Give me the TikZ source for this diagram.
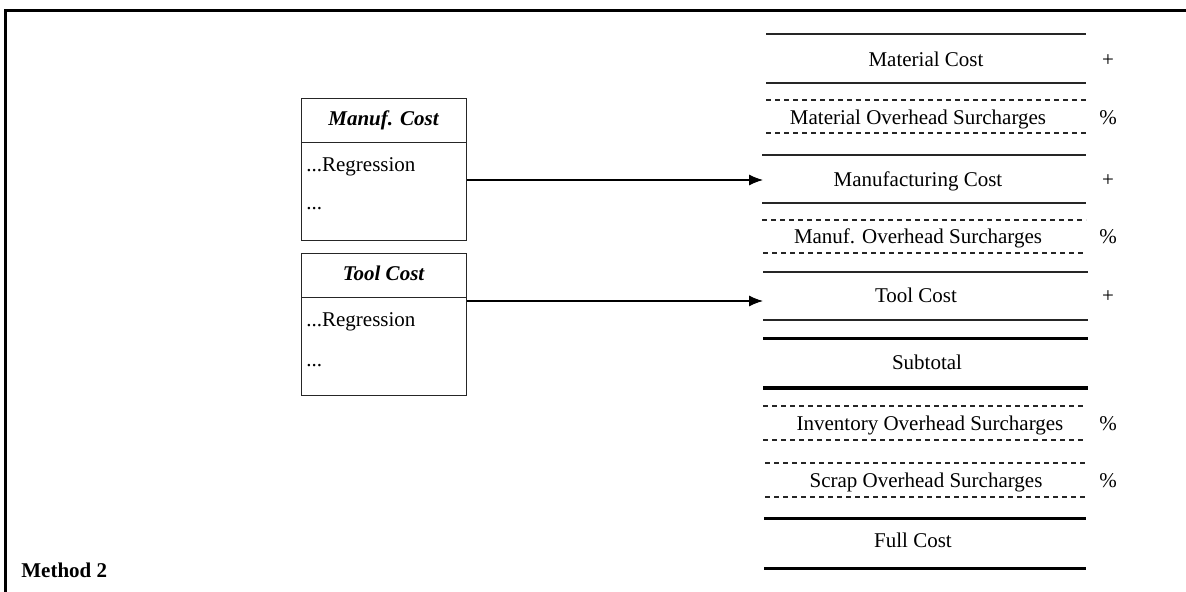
\documentclass[tikz,border=0pt]{standalone}
\usepackage{fontspec}
\setmainfont{Liberation Serif}
\usetikzlibrary{arrows.meta}
\tikzset{
  thinrule/.style={line width=0.7pt, draw=black!85},
  dashrule/.style={line width=0.7pt, draw=black!85, dash pattern=on 2.5pt off 2pt},
  thickrule/.style={line width=1.5pt, draw=black},
  lbl/.style={anchor=base, inner sep=0pt, font=\fontsize{10.5}{12}\selectfont},
  ltxt/.style={anchor=base west, inner sep=0pt, font=\fontsize{10.5}{12}\selectfont},
  boxpart/.style={draw=black!85, line width=0.65pt, minimum width=82.5pt, anchor=north west, inner sep=0pt},
  arr/.style={line width=0.55pt, -{Latex[length=7pt,width=5.5pt]}}
}
\begin{document}
\begin{tikzpicture}[x=0.5pt,y=-0.5pt]
\useasboundingbox (0,0) rectangle (1186,592);
% frame
\draw[line width=1.5pt] (5,592) -- (5,11) -- (1190,11);
% left boxes
\node[boxpart, minimum height=22pt] (mh) at (301,98) {};
\node[lbl, font=\fontsize{10.5}{12}\selectfont\bfseries\itshape] (mht) at (383.5,126) {Manuf. Cost};
\node[boxpart, minimum height=49pt] (mb) at (301,142) {};
\node[ltxt] (mr) at (306,172) {...Regression};
\node[ltxt] (md) at (306,210) {...};
\node[boxpart, minimum height=22pt] (th) at (301,253) {};
\node[lbl, font=\fontsize{10.5}{12}\selectfont\bfseries\itshape] (tht) at (383.5,281) {Tool Cost};
\node[boxpart, minimum height=49pt] (tb) at (301,297) {};
\node[ltxt] (tr) at (306,327) {...Regression};
\node[ltxt] (td) at (306,367) {...};
% right rows: lines
\draw[thinrule] (766,34) -- (1086,34);
\draw[thinrule] (766,83) -- (1086,83);
\draw[dashrule] (766,100) -- (1086,100);
\draw[dashrule] (766,133) -- (1086,133);
\draw[thinrule] (762,155) -- (1086,155);
\draw[thinrule] (762,203) -- (1086,203);
\draw[dashrule] (762,220) -- (1086,220);
\draw[dashrule] (763,253) -- (1084,253);
\draw[thinrule] (763,272) -- (1088,272);
\draw[thinrule] (763,320) -- (1088,320);
\draw[thickrule] (763,339) -- (1088,339);
\draw[thickrule] (763,388) -- (1088,388);
\draw[dashrule] (763,406) -- (1086,406);
\draw[dashrule] (763,440) -- (1086,440);
\draw[dashrule] (765,463) -- (1086,463);
\draw[dashrule] (765,497) -- (1086,497);
\draw[thickrule] (764,518) -- (1086,518);
\draw[thickrule] (764,568) -- (1086,568);
% right rows: labels
\node[lbl] (matc) at (926,67) {Material Cost};
\node[lbl] (mato) at (918,125) {Material Overhead Surcharges};
\node[lbl] (manc) at (918,187) {Manufacturing Cost};
\node[lbl] (mano) at (918,244) {Manuf. Overhead Surcharges};
\node[lbl] (tool) at (916,303) {Tool Cost};
\node[lbl] (sub) at (927,370) {Subtotal};
\node[lbl] (inv) at (930,430) {Inventory Overhead Surcharges};
\node[lbl] (scr) at (926,487) {Scrap Overhead Surcharges};
\node[lbl] (full) at (913,547) {Full Cost};
% operators
\node[lbl] (op1) at (1108,67) {+};
\node[lbl] (op2) at (1108,125) {\%};
\node[lbl] (op3) at (1108,187) {+};
\node[lbl] (op4) at (1108,244) {\%};
\node[lbl] (op5) at (1108,303) {+};
\node[lbl] (op6) at (1108,430) {\%};
\node[lbl] (op7) at (1108,487) {\%};
% arrows
\coordinate (mcin) at (763,180);
\coordinate (tcin) at (763,301);
\draw[arr] (mb.east |- mcin) -- (mcin);
\draw[arr] (tb.east |- tcin) -- (tcin);
% method label
\node[ltxt, font=\fontsize{10.5}{12}\selectfont\bfseries] (meth) at (21,577) {Method 2};
\end{tikzpicture}
\end{document}
